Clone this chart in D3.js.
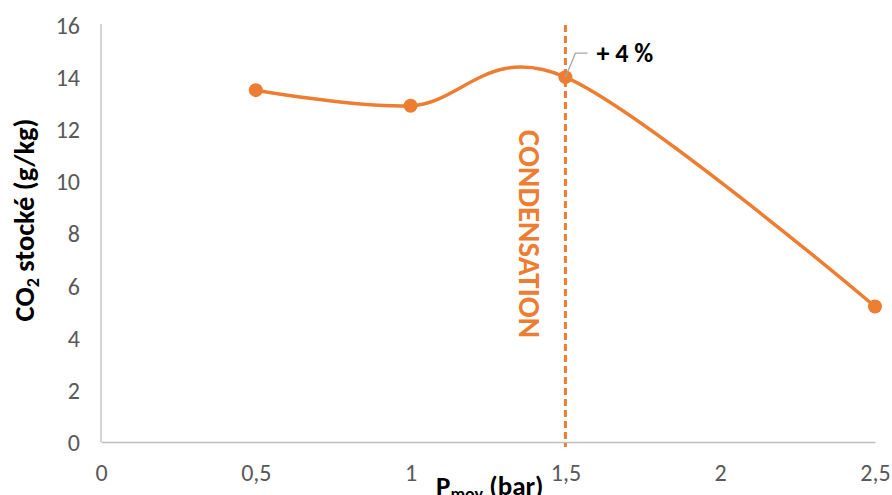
<!DOCTYPE html>
<html><head><meta charset="utf-8">
<script src="https://cdn.jsdelivr.net/npm/d3@7"></script>
<style>body{margin:0;background:#fff}svg{display:block}</style>
</head><body>
<script>
const pressures = [0.5, 1, 1.5, 2.5];
const co2Stored = [13.5, 12.9, 14.0, 5.2];
const xTicks = [0, 0.5, 1, 1.5, 2, 2.5];
const yTicks = [0, 2, 4, 6, 8, 10, 12, 14, 16];
const condensationX = 1.5;
const annotation = "+ 4 %";

const W = 892, H = 495;
const svg = d3.select("body").append("svg").attr("width", W).attr("height", H);
const x = d3.scaleLinear().domain([0, 2.5]).range([101, 875]);
const y = d3.scaleLinear().domain([0, 16]).range([442, 25]);
const orange = "#ED7D31";
const font = "Carlito, Calibri, Lato, sans-serif";

// axes
const xAxis = svg.append("g").attr("transform", `translate(0,${y(0)})`)
  .call(d3.axisBottom(x).tickValues(xTicks).tickSize(0)
    .tickFormat(d => String(d).replace(".", ",")));
const yAxis = svg.append("g").attr("transform", `translate(${x(0)},0)`)
  .call(d3.axisLeft(y).tickValues(yTicks).tickSize(0));
[xAxis, yAxis].forEach(g => {
  g.select(".domain").attr("stroke", "#BFBFBF").attr("stroke-width", 1.3);
  g.selectAll("text").attr("fill", "#595959").style("font-family", font).style("font-size", "24px");
});
yAxis.select(".domain").attr("d", `M0,${y(0)}V${y(16) - 1}`);
yAxis.selectAll("text").attr("x", -21).attr("dy", "0.35em");
xAxis.selectAll("text").attr("y", 31).attr("dy", "0.35em");

// condensation line
svg.append("line").attr("x1", x(condensationX)).attr("x2", x(condensationX))
  .attr("y1", y(16)).attr("y2", y(0) + 5)
  .attr("stroke", orange).attr("stroke-width", 3).attr("stroke-dasharray", "7,4");
svg.append("text")
  .attr("transform", `translate(${x(condensationX) - 46},${234}) rotate(90)`)
  .attr("text-anchor", "middle")
  .attr("fill", orange).style("font-family", font).style("font-weight", "bold").style("font-size", "31px")
  .text("CONDENSATION");

// series
const pts = pressures.map((p, i) => [x(p), y(co2Stored[i])]);
svg.append("path").attr("d", d3.line().curve(d3.curveCardinal.tension(0))(pts))
  .attr("fill", "none").attr("stroke", orange).attr("stroke-width", 3.5);
svg.selectAll("circle.pt").data(pts).join("circle").attr("class", "pt")
  .attr("cx", d => d[0]).attr("cy", d => d[1]).attr("r", 7).attr("fill", orange);

// annotation
const ap = pts[2];
svg.append("polyline").attr("points", `${ap[0]},${ap[1]} ${ap[0] + 10},${ap[1] - 24} ${ap[0] + 22},${ap[1] - 24}`)
  .attr("fill", "none").attr("stroke", "#A6A6A6").attr("stroke-width", 1.3);
svg.append("text").attr("x", ap[0] + 31).attr("y", ap[1] - 15)
  .style("font-family", font).style("font-weight", "bold").style("font-size", "26px").attr("fill", "#000")
  .text(annotation);

// axis titles
const yt = svg.append("text").attr("transform", `translate(34,${220}) rotate(-90)`)
  .attr("text-anchor", "middle").style("font-family", font).style("font-weight", "bold").style("font-size", "28.5px");
yt.append("tspan").text("CO");
yt.append("tspan").style("font-size", "18px").attr("dy", "5").text("2");
yt.append("tspan").attr("dy", "-5").text(" stocké (g/kg)");

const xt = svg.append("text").attr("x", 436).attr("y", 495)
  .style("font-family", font).style("font-weight", "bold").style("font-size", "27px");
xt.append("tspan").text("P");
xt.append("tspan").style("font-size", "18px").attr("dy", "5").text("moy");
xt.append("tspan").attr("dy", "-5").text(" (bar)");
</script>
</body></html>
